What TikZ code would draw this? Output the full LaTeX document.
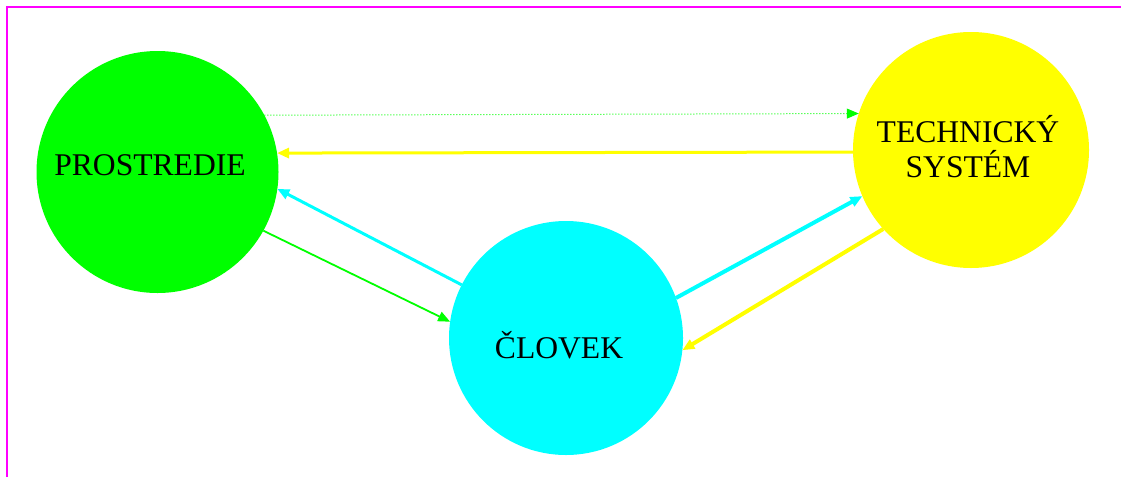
\documentclass[tikz,border=0pt]{standalone}
\usepackage{fontspec}
\setmainfont{Liberation Serif}
\usetikzlibrary{arrows.meta}
\definecolor{envgreen}{RGB}{0,255,0}
\definecolor{mancyan}{RGB}{0,255,255}
\definecolor{techyellow}{RGB}{255,255,0}
\definecolor{framemag}{RGB}{255,0,255}
\begin{document}
\begin{tikzpicture}[x=1pt,y=-1pt,
  blob/.style={circle,inner sep=0pt,outer sep=0pt,minimum size=#1},
  lbl/.style={font=\fontsize{31.6}{35}\selectfont,align=center,inner sep=0pt},
  tip/.style={-{Triangle[length=12pt,width=10pt]}},
  flow/.style={tip,line width=#1}]
\useasboundingbox (0,0) rectangle (1121,477);
% frame lines along top and left edges
\coordinate (fa) at (7,477);
\coordinate (fb) at (7,7);
\coordinate (fc) at (1121,7);
\draw[framemag,line width=1.5pt] (fa) -- (fb) -- (fc);
% the three systems
\node[blob=242pt,fill=envgreen] (env) at (157.5,172) {};
\node[blob=234pt,fill=mancyan] (man) at (566,338) {};
\node[blob=236pt,fill=techyellow] (tech) at (971,150) {};
\node[lbl] (envtxt) at (150,165) {PROSTREDIE};
\node[lbl] (mantxt) at (559,345) {ČLOVEK};
\node[lbl] (techtxt) at (968,147) {TECHNICKÝ\\SYSTÉM};
% relations
\draw[envgreen,flow=1pt,dash pattern=on 1pt off 2pt] (env.28) -- (tech.162);
\draw[techyellow,flow=3pt] (tech.181.5) -- (env.9);
\draw[mancyan,flow=3pt] (man.153) -- (env.-8);
\draw[envgreen,flow=1.8pt] (env.-29) -- (man.172.5);
\draw[mancyan,flow=4pt] (man.20) -- (tech.203);
\draw[techyellow,flow=4pt] (tech.222.5) -- (man.-6);
\end{tikzpicture}
\end{document}
